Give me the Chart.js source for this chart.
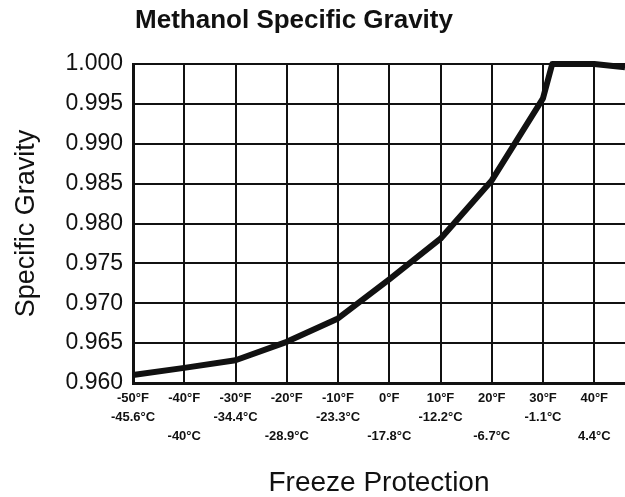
<!DOCTYPE html>
<html>
<head>
<meta charset="utf-8">
<script src="https://cdn.jsdelivr.net/npm/chart.js@4/dist/chart.umd.min.js"></script>
<style>
  html, body { margin: 0; padding: 0; background: #fff; }
  #wrap { width: 625px; height: 497px; }
</style>
</head>
<body>
<div id="wrap"><canvas id="chart" width="625" height="497"></canvas></div>
<script>
// Données
const tempF = [-50, -40, -30, -20, -10, 0, 10, 20, 30, 31.8, 40, 46];
const gravity = [0.961, 0.9619, 0.96285, 0.96516, 0.9681, 0.973, 0.9781, 0.9854, 0.9957, 1.000, 1.000, 0.9996];
const tickF = [-50, -40, -30, -20, -10, 0, 10, 20, 30, 40];
const labelsF = ['-50°F', '-40°F', '-30°F', '-20°F', '-10°F', '0°F', '10°F', '20°F', '30°F', '40°F'];
const labelsC = ['-45.6°C', '-40°C', '-34.4°C', '-28.9°C', '-23.3°C', '-17.8°C', '-12.2°C', '-6.7°C', '-1.1°C', '4.4°C'];
const tickGravity = [0.960, 0.965, 0.970, 0.975, 0.980, 0.985, 0.990, 0.995, 1.000];

const ink = '#111';

// titre placé à la main (décalé à gauche comme sur l'original)
const titlePlugin = {
  id: 'leftTitle',
  afterDraw(chart) {
    const ctx = chart.ctx;
    ctx.save();
    ctx.fillStyle = ink;
    ctx.font = 'bold 26px "Liberation Sans", Arial, sans-serif';
    ctx.textAlign = 'center';
    ctx.textBaseline = 'middle';
    ctx.fillText('Methanol Specific Gravity', 294, 21);
    ctx.restore();
  }
};

new Chart(document.getElementById('chart'), {
  type: 'line',
  data: {
    datasets: [{
      data: tempF.map((t, i) => ({ x: t, y: gravity[i] })),
      borderColor: ink,
      borderWidth: 6,
      borderJoinStyle: 'round',
      pointRadius: 0,
      tension: 0,
      fill: false,
      clip: 8
    }]
  },
  options: {
    responsive: false,
    animation: false,
    layout: { padding: { top: 64, right: 0, left: 0, bottom: 0 } },
    plugins: {
      legend: { display: false },
      tooltip: { enabled: false },
      title: { display: false }
    },
    scales: {
      x: {
        type: 'linear',
        min: -50,
        max: 46,
        afterBuildTicks: scale => { scale.ticks = tickF.map(v => ({ value: v })); },
        afterFit: scale => { scale.height = 114; },
        grid: { color: ink, lineWidth: 2, drawTicks: false },
        border: { color: ink, width: 3 },
        ticks: {
          autoSkip: false,
          maxRotation: 0,
          padding: 6,
          color: ink,
          font: { family: '"Liberation Sans", Arial, sans-serif', size: 13, weight: 'bold', lineHeight: 1.45 },
          callback: (v, i) => i % 2 === 0 ? [labelsF[i], labelsC[i], ''] : [labelsF[i], '', labelsC[i]]
        },
        title: {
          display: true,
          text: 'Freeze Protection',
          color: ink,
          padding: { top: 0, bottom: 0 },
          font: { family: '"Liberation Sans", Arial, sans-serif', size: 28, lineHeight: 1 }
        }
      },
      y: {
        min: 0.960,
        max: 1.000,
        afterBuildTicks: scale => { scale.ticks = tickGravity.map(v => ({ value: v })); },
        afterFit: scale => { scale.width = 133; },
        grid: { color: ink, lineWidth: 2, drawTicks: false },
        border: { color: ink, width: 3 },
        ticks: {
          padding: 10,
          color: ink,
          font: { family: '"Liberation Sans", Arial, sans-serif', size: 23 },
          callback: v => v.toFixed(3)
        },
        title: {
          display: true,
          text: 'Specific Gravity',
          color: ink,
          padding: { top: 13, bottom: 0 },
          font: { family: '"Liberation Sans", Arial, sans-serif', size: 27, lineHeight: 1 }
        }
      }
    }
  },
  plugins: [titlePlugin]
});
</script>
</body>
</html>
